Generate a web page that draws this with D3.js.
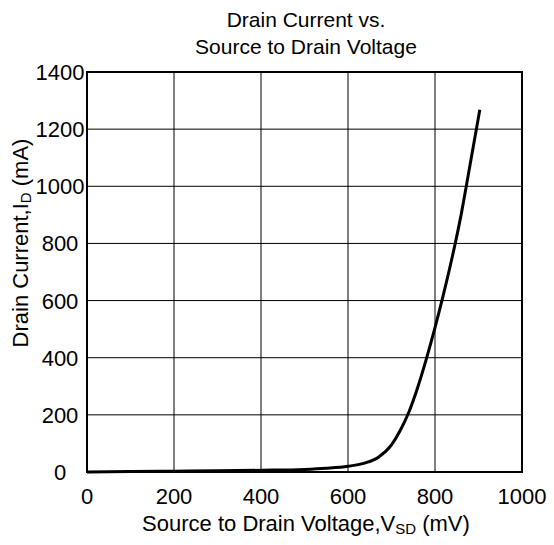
<!DOCTYPE html>
<html lang="en">

<head>
  <meta charset="UTF-8">
  <title>Drain Current vs. Source to Drain Voltage</title>
  <style>
    body {
      margin: 0px;
      background-color: #fff;
      font-family: "Liberation Sans", Arial, Helvetica, sans-serif;
    }

    .grid line {
      stroke: #000;
      stroke-width: 1;
    }

    .tick-label {
      font-size: 22px;
      fill: #000;
    }
  </style>
  <script src="https://d3js.org/d3.v7.min.js"></script>
</head>

<body>
  <svg width="554" height="545"></svg>
  <script>
    // values
    const vsd = [0, 100, 200, 300, 400, 500, 550, 600, 640, 670, 700, 720, 740, 760, 780, 800, 820, 840, 860, 880, 903];
    const drainCurrent = [0, 2, 3, 4, 6, 9, 13, 20, 32, 52, 95, 145, 210, 295, 395, 505, 625, 755, 900, 1070, 1268];
    const xTicks = [0, 200, 400, 600, 800, 1000];
    const yTicks = [0, 200, 400, 600, 800, 1000, 1200, 1400];

    const svg = d3.select('svg');
    const plotLeft = 87, plotRight = 522, plotTop = 72, plotBottom = 472;

    const x = d3.scaleLinear().domain([0, 1000]).range([plotLeft, plotRight]);
    const y = d3.scaleLinear().domain([0, 1400]).range([plotBottom, plotTop]);

    // grid
    const grid = svg.append('g').attr('class', 'grid');
    grid.selectAll('.v')
      .data(xTicks.slice(1, -1))
      .enter().append('line')
      .attr('x1', d => x(d)).attr('x2', d => x(d))
      .attr('y1', plotTop).attr('y2', plotBottom);
    grid.selectAll('.h')
      .data(yTicks.slice(1, -1))
      .enter().append('line')
      .attr('x1', plotLeft).attr('x2', plotRight)
      .attr('y1', d => y(d)).attr('y2', d => y(d));

    // curve
    const line = d3.line()
      .x(d => x(d[0]))
      .y(d => y(d[1]))
      .curve(d3.curveMonotoneX);

    svg.append('path')
      .datum(vsd.map((v, i) => [v, drainCurrent[i]]))
      .attr('fill', 'none')
      .attr('stroke', '#000')
      .attr('stroke-width', 3)
      .attr('d', line);

    // frame
    svg.append('rect')
      .attr('x', plotLeft).attr('y', plotTop)
      .attr('width', plotRight - plotLeft).attr('height', plotBottom - plotTop)
      .attr('fill', 'none')
      .attr('stroke', '#000')
      .attr('stroke-width', 2);

    // tick labels
    svg.selectAll('.xt')
      .data(xTicks)
      .enter().append('text')
      .attr('class', 'tick-label')
      .attr('x', d => x(d))
      .attr('y', 504)
      .attr('text-anchor', 'middle')
      .text(d => d);

    svg.selectAll('.yt')
      .data(yTicks)
      .enter().append('text')
      .attr('class', 'tick-label')
      .attr('x', 60)
      .attr('y', d => y(d) + 8)
      .attr('text-anchor', 'middle')
      .text(d => d);

    // titles
    const cx = 306;
    const title = svg.append('text')
      .attr('text-anchor', 'middle')
      .attr('font-size', 21);
    title.append('tspan').attr('x', cx).attr('y', 27).text('Drain Current vs.');
    title.append('tspan').attr('x', cx).attr('y', 54).text('Source to Drain Voltage');

    const xTitle = svg.append('text')
      .attr('x', cx)
      .attr('y', 531)
      .attr('text-anchor', 'middle')
      .attr('font-size', 22);
    xTitle.append('tspan').text('Source to Drain Voltage,V');
    xTitle.append('tspan').attr('font-size', 15).attr('dy', 3).text('SD');
    xTitle.append('tspan').attr('dy', -3).text(' (mV)');

    const yTitle = svg.append('text')
      .attr('transform', 'translate(28,243) rotate(-90)')
      .attr('text-anchor', 'middle')
      .attr('font-size', 22);
    yTitle.append('tspan').text('Drain Current,I');
    yTitle.append('tspan').attr('font-size', 15).attr('dy', 3).text('D');
    yTitle.append('tspan').attr('dy', -3).text(' (mA)');
  </script>
</body>

</html>
